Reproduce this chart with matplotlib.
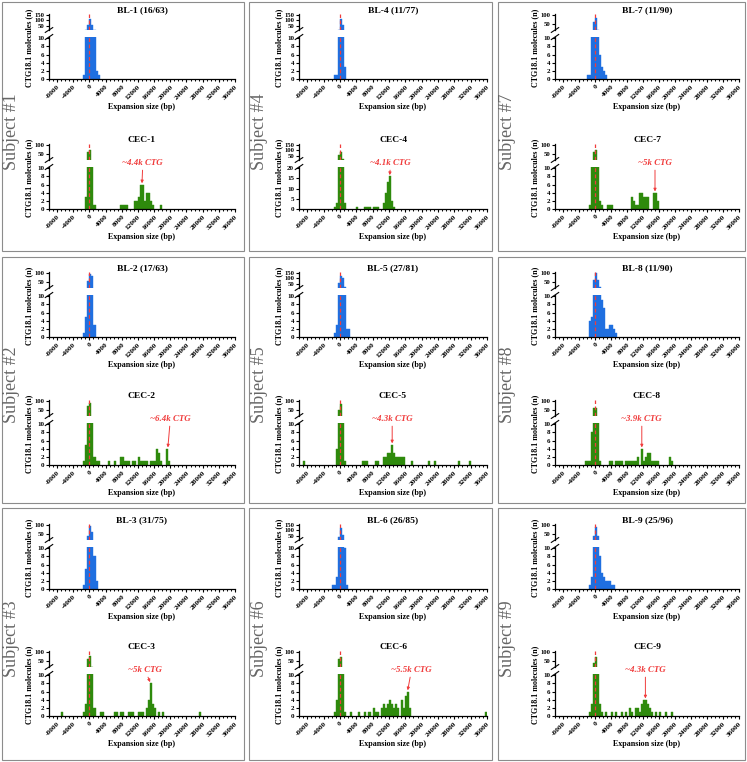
import numpy as np
import matplotlib
matplotlib.use("Agg")
import matplotlib.pyplot as plt
from matplotlib.patches import Rectangle
from matplotlib.ticker import MultipleLocator

plt.rcParams['font.family'] = ['Liberation Serif', 'DejaVu Serif']
plt.rcParams['font.weight'] = 'bold'

# histogram data: (bin left edge in bp, number of molecules), 500 bp bins
BL1 = [(-1500, 1), (-1000, 15), (-500, 60), (0, 115), (500, 60), (1000, 15), (1500, 2), (2000, 1)]
CEC1 = [(-1000, 3), (-500, 60), (0, 70), (500, 15), (1000, 1),
        (7500, 1), (8000, 1), (8500, 1), (9000, 1),
        (11000, 2), (11500, 2), (12000, 3), (12500, 6), (13000, 6), (13500, 2),
        (14000, 4), (14500, 4), (15000, 2), (15500, 1), (17500, 1)]
BL2 = [(-1500, 1), (-1000, 5), (-500, 55), (0, 90), (500, 80), (1000, 3)]
CEC2 = [(-1500, 1), (-1000, 5), (-500, 70), (0, 85), (500, 15), (1000, 2), (1500, 1), (2000, 1),
        (4500, 1), (6000, 1), (7500, 2), (8000, 2), (8500, 1), (9000, 1), (9500, 1),
        (10500, 1), (11000, 1), (12000, 2), (12500, 1), (13000, 1), (13500, 1), (14000, 1),
        (15000, 1), (15500, 1), (16000, 1), (16500, 4), (17000, 3), (17500, 1),
        (19000, 4), (19500, 1)]
BL3 = [(-1500, 1), (-1000, 5), (-500, 40), (0, 90), (500, 60), (1000, 8), (1500, 2)]
CEC3 = [(-7000, 1), (-1500, 1), (-1000, 3), (-500, 60), (0, 75), (500, 20), (1000, 2),
        (2500, 1), (3000, 1), (6000, 1), (6500, 1), (7500, 1), (8000, 1),
        (9500, 1), (10000, 1), (10500, 1), (12000, 1), (12500, 1), (13000, 1),
        (14000, 2), (14500, 4), (15000, 8), (15500, 3), (16000, 2), (17000, 1), (18000, 1),
        (27000, 1)]
BL4 = [(-1500, 1), (-1000, 1), (-500, 20), (0, 115), (500, 60), (1000, 3)]
CEC4 = [(-1500, 1), (-1000, 3), (-500, 60), (0, 90), (500, 25), (1000, 3),
        (4000, 1), (6000, 1), (6500, 1), (7000, 1), (8000, 1), (8500, 1), (9000, 1),
        (10500, 3), (11000, 8), (11500, 13), (12000, 16), (12500, 4), (13000, 1)]
BL5 = [(-1500, 1), (-1000, 3), (-500, 60), (0, 120), (500, 100), (1000, 30), (1500, 2), (2000, 2)]
CEC5 = [(-9000, 1), (-1000, 4), (-500, 50), (0, 80), (500, 15), (1000, 1),
        (5500, 1), (6000, 1), (6500, 1), (8500, 1), (9000, 1),
        (10500, 2), (11000, 2), (11500, 3), (12000, 3), (12500, 5), (13000, 3),
        (13500, 2), (14000, 2), (14500, 2), (15000, 2), (15500, 2), (17500, 1),
        (21500, 1), (23000, 1), (29000, 1), (31500, 1)]
BL6 = [(-2000, 1), (-1500, 1), (-1000, 3), (-500, 40), (0, 120), (500, 60), (1000, 10), (1500, 1)]
CEC6 = [(-1500, 1), (-1000, 4), (-500, 60), (0, 70), (500, 15), (1000, 1),
        (2500, 1), (4500, 1), (6000, 1), (7000, 1), (8000, 2), (8500, 1), (9000, 1),
        (10000, 2), (10500, 3), (11000, 2), (11500, 3), (12000, 4), (12500, 3),
        (13000, 2), (13500, 3), (14000, 2), (15000, 4), (15500, 2), (16000, 5),
        (16500, 6), (17000, 2), (35500, 1)]
BL7 = [(-2000, 1), (-1500, 1), (-1000, 12), (-500, 60), (0, 80), (500, 20),
       (1000, 6), (1500, 3), (2000, 2), (2500, 1)]
CEC7 = [(-1500, 1), (-1000, 12), (-500, 60), (0, 70), (500, 15), (1000, 2), (1500, 1),
        (3000, 1), (3500, 1), (4000, 1), (9000, 3), (9500, 2), (10000, 1), (10500, 1),
        (11000, 4), (11500, 4), (12000, 3), (12500, 3), (13000, 3), (14500, 4), (15000, 4),
        (15500, 2)]
BL8 = [(-1500, 4), (-1000, 5), (-500, 60), (0, 100), (500, 60), (1000, 25), (1500, 9),
       (2000, 7), (2500, 2), (3000, 2), (3500, 3), (4000, 3), (4500, 2), (5000, 1)]
CEC8 = [(-2500, 1), (-2000, 1), (-1500, 1), (-1000, 8), (-500, 60), (0, 60), (500, 12), (1000, 1),
        (3500, 1), (4000, 1), (5000, 1), (5500, 1), (6000, 1), (6500, 1),
        (7500, 1), (8000, 1), (8500, 1), (9000, 1), (9500, 1), (10000, 1), (10500, 2),
        (11500, 4), (12000, 1), (12500, 2), (13000, 3), (13500, 3), (14000, 1), (14500, 1),
        (15000, 1), (15500, 1), (18500, 2), (19000, 1)]
BL9 = [(-1500, 1), (-1000, 3), (-500, 40), (0, 85), (500, 40), (1000, 8), (1500, 4),
       (2000, 3), (2500, 2), (3000, 2), (3500, 2), (4000, 1), (4500, 1)]
CEC9 = [(-1500, 1), (-1000, 3), (-500, 40), (0, 70), (500, 15), (1000, 3), (1500, 1),
        (2500, 1), (4000, 1), (5000, 1), (6500, 1), (7500, 1), (8500, 2), (9000, 1),
        (10000, 2), (10500, 2), (11000, 1), (11500, 3), (12000, 4), (12500, 4), (13000, 3),
        (13500, 2), (14000, 1), (15000, 1), (16000, 1), (17500, 1), (19000, 1)]

BL_TITLES = ["BL-1 (16/63)", "BL-2 (17/63)", "BL-3 (31/75)",
             "BL-4 (11/77)", "BL-5 (27/81)", "BL-6 (26/85)",
             "BL-7 (11/90)", "BL-8 (11/90)", "BL-9 (25/96)"]
BL_DATA = [BL1, BL2, BL3, BL4, BL5, BL6, BL7, BL8, BL9]
BL_TOP = [150, 100, 100, 150, 150, 150, 100, 100, 100]
CEC_DATA = [CEC1, CEC2, CEC3, CEC4, CEC5, CEC6, CEC7, CEC8, CEC9]
CEC_TOP = [100, 100, 100, 150, 100, 100, 100, 100, 100]
CEC_BOTTOM = [10, 10, 10, 20, 10, 10, 10, 10, 10]
NOTE_TEXT = ["~4.4k CTG", "~6.4k CTG", "~5k CTG", "~4.1k CTG", "~4.3k CTG",
             "~5.5k CTG", "~5k CTG", "~3.9k CTG", "~4.3k CTG"]
NOTE_AT = [13000, 19400, 15000, 12200, 12800, 16600, 15000, 11700, 12600]
NOTE_TEXT_X = [13200, 20000, 13800, 12400, 12800, 17500, 15000, 11700, 12600]

BLUE = '#1F6FE0'
GREEN = '#2E8A0C'
RED = '#F03C3C'

W, H = 747, 762
fig = plt.figure(figsize=(W / 100, H / 100), dpi=100)


def fx(x):
    return x / W


def fy(y):
    return 1 - y / H


def add_ax(x0, x1, y0, y1):
    return fig.add_axes([fx(x0), fy(y1), fx(x1) - fx(x0), (y1 - y0) / H])


def panel(x0, x1, y0, data, color, title, top_max, bot_max, note=None):
    ax_t = add_ax(x0, x1, y0, y0 + 16)
    ax_b = add_ax(x0, x1, y0 + 23, y0 + 65)
    bins = [b for b, n in data]
    counts = [n for b, n in data]
    for ax in (ax_t, ax_b):
        ax.bar(bins, counts, width=500, align='edge', color=color,
               edgecolor=color, linewidth=0.3)
        ax.axvline(0, color=RED, lw=0.9, ls=(0, (3, 2)), zorder=3)
        ax.set_xlim(-10000, 36000)
        for s in ('top', 'right'):
            ax.spines[s].set_visible(False)
        for s in ('left', 'bottom'):
            ax.spines[s].set_linewidth(0.9)
        ax.tick_params(labelsize=5.0, width=0.8, length=2.5, pad=1)
    ax_t.set_ylim(18, top_max * 1.03)
    ax_t.set_yticks(np.arange(50, top_max + 1, 50))
    ax_t.tick_params(axis='y', labelsize=4.8, pad=0.5)
    ax_t.spines['bottom'].set_visible(False)
    ax_t.set_xticks([])
    ax_b.set_ylim(0, bot_max * 1.03)
    ax_b.yaxis.set_major_locator(MultipleLocator(2 if bot_max == 10 else 5))
    ax_b.set_xticks(np.arange(-8000, 36001, 4000))
    ax_b.xaxis.set_minor_locator(MultipleLocator(1000))
    ax_b.tick_params(axis='x', which='minor', length=1.5, width=0.7)
    ax_b.set_xticklabels([str(v) for v in range(-8000, 36001, 4000)],
                         rotation=45, ha='right', va='top', rotation_mode='anchor',
                         fontsize=5.3)
    ax_b.set_xlabel('Expansion size (bp)', fontsize=5.8, fontweight='bold', labelpad=2)
    # break marks
    ax_b.plot([-0.02, 0.02], [0.94, 1.06], transform=ax_b.transAxes,
              color='k', lw=0.8, clip_on=False)
    ax_t.plot([-0.02, 0.02], [-0.15, 0.15], transform=ax_t.transAxes,
              color='k', lw=0.8, clip_on=False)
    ax_t.set_title(title, fontsize=6.8, fontweight='bold', pad=1)
    fig.text(fx(x0 - 20), fy(y0 + 34), 'CTG18.1 molecules (n)', rotation=90,
             ha='center', va='center', fontsize=5.8, fontweight='bold')
    if note is not None:
        text, at, tx = note
        n_at = max(n for b, n in data if b <= at < b + 500)
        ax_b.annotate(text, xy=(at, n_at + bot_max * 0.03),
                      xytext=(tx, bot_max * 1.02), textcoords='data',
                      ha='center', va='bottom', color=RED, fontsize=6.4,
                      fontstyle='italic', fontweight='bold', annotation_clip=False,
                      arrowprops=dict(arrowstyle='-|>', color=RED, lw=0.7,
                                      mutation_scale=4, shrinkA=0, shrinkB=0))
    return ax_t, ax_b


col_box = [(2, 244), (249, 492), (498, 745)]
col_ax = [(49, 235), (299, 487), (555, 739)]
row_box = [(2, 251), (257, 503), (508, 760)]
row_bl = [14, 272, 524]
row_cec = [144, 400, 651]

for c in range(3):
    for r in range(3):
        k = c * 3 + r
        bx0, bx1 = col_box[c]
        by0, by1 = row_box[r]
        fig.add_artist(Rectangle((fx(bx0), fy(by1)), fx(bx1) - fx(bx0), (by1 - by0) / H,
                                 transform=fig.transFigure, fill=False,
                                 edgecolor='#8c8c8c', lw=0.8))
        fig.text(fx(bx0 + 10), fy((by0 + by1) / 2 + 5), 'Subject #%d' % (k + 1),
                 rotation=90, ha='center', va='center', fontsize=13,
                 fontweight='normal', color='#666666')
        x0, x1 = col_ax[c]
        panel(x0, x1, row_bl[r], BL_DATA[k], BLUE, BL_TITLES[k], BL_TOP[k], 10)
        panel(x0, x1, row_cec[r], CEC_DATA[k], GREEN, 'CEC-%d' % (k + 1),
              CEC_TOP[k], CEC_BOTTOM[k],
              note=(NOTE_TEXT[k], NOTE_AT[k], NOTE_TEXT_X[k]))

fig.savefig('out.png', dpi=100)
